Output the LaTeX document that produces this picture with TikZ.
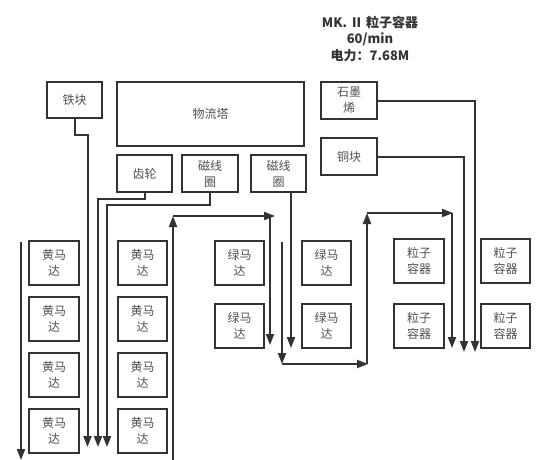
\documentclass[tikz,border=0pt]{standalone}
\usepackage{fontspec}
\setmainfont{Noto Sans CJK SC}
\usetikzlibrary{arrows.meta}
\definecolor{ln}{HTML}{333333}
\definecolor{tx}{HTML}{505050}
\tikzset{
  bx/.style={draw=ln, line width=2pt, align=center, text=tx, inner sep=0pt,
    font=\fontsize{12}{16}\selectfont},
  motor/.style={bx, minimum width=50pt, minimum height=44pt},
  conn/.style={draw=ln, line width=2pt},
  arr/.style={conn, -{Triangle[length=11pt,width=8pt]}},
}
\begin{document}
\begin{tikzpicture}[x=1pt,y=-1pt]
\useasboundingbox (0,0) rectangle (549,460);
% title
\node[align=center, text=ln, font=\fontsize{13}{16.5}\selectfont\bfseries] (title) at (370,39)
  {MK. Ⅱ\ 粒子容器\\60/min\\电力：7.68M};
% top boxes
\node[bx, minimum width=55pt, minimum height=36pt] (tie) at (74.5,100) {铁块};
\node[bx, minimum width=187pt, minimum height=64pt] (wl) at (210.5,114) {物流塔};
\node[bx, minimum width=55pt, minimum height=37pt] (chilun) at (144.5,173.5) {齿轮};
\node[bx, minimum width=56pt, minimum height=37pt] (cxa) at (210,173.5) {磁线\\圈};
\node[bx, minimum width=55pt, minimum height=37pt] (cxb) at (278.5,173.5) {磁线\\圈};
\node[bx, minimum width=56pt, minimum height=37pt] (shimo) at (349,100.5) {石墨\\烯};
\node[bx, minimum width=56pt, minimum height=37pt] (tong) at (349,156.5) {铜块};
% yellow motors
\foreach \i/\y in {1/262.5,2/319,3/375,4/431}{
  \node[motor] (yl\i) at (54,\y) {黄马\\达};
  \node[motor, minimum width=49pt] (yr\i) at (142.5,\y) {黄马\\达};
}
% green motors
\foreach \i/\y in {1/262.5,2/326}{
  \node[motor, minimum width=49pt] (gl\i) at (239.5,\y) {绿马\\达};
  \node[motor, minimum width=49pt] (gr\i) at (326.5,\y) {绿马\\达};
}
% particle containers
\foreach \i/\y in {1/261,2/326}{
  \node[motor] (pl\i) at (419,\y) {粒子\\容器};
  \node[motor, minimum width=49pt] (pr\i) at (505.5,\y) {粒子\\容器};
}
% coordinates
\coordinate (e1) at (87.5,447);
\coordinate (e2) at (98,447);
\coordinate (e3) at (107,447);
\coordinate (e4) at (291,348);
\coordinate (la) at (21,242);
\coordinate (lb) at (21,460);
\coordinate (ua) at (173,460);
\coordinate (ub) at (173,216);
\coordinate (uc) at (275,216);
\coordinate (ud) at (270,216);
\coordinate (ue) at (270,345);
\coordinate (va) at (282,242);
\coordinate (vb) at (282,364);
\coordinate (vc) at (368,364);
\coordinate (vd) at (367,364);
\coordinate (ve) at (367,213);
\coordinate (vg) at (453,213);
\coordinate (vh) at (452,213);
\coordinate (vi) at (452,348);
\coordinate (t1) at (464,352);
\coordinate (t2) at (475,352);
% connectors
\draw[arr] (tie.south) -- ++(0,16) -| (e1);
\draw[arr] (chilun.south) -- ++(0,6) -| (e2);
\draw[arr] (cxa.south) -- ++(0,12) -| (e3);
\draw[arr] (cxb.south -| e4) -- (e4);
\draw[arr] (la) -- (lb);
\draw[arr] (ua) -- (ub);
\draw[arr] (ub) -- (uc);
\draw[arr] (ud) -- (ue);
\draw[arr] (va) -- (vb);
\draw[arr] (vb) -- (vc);
\draw[arr] (vd) -- (ve);
\draw[arr] (ve) -- (vg);
\draw[arr] (vh) -- (vi);
\draw[arr] (tong.east) -| (t1);
\draw[arr] (shimo.east) -| (t2);
\end{tikzpicture}
\end{document}
